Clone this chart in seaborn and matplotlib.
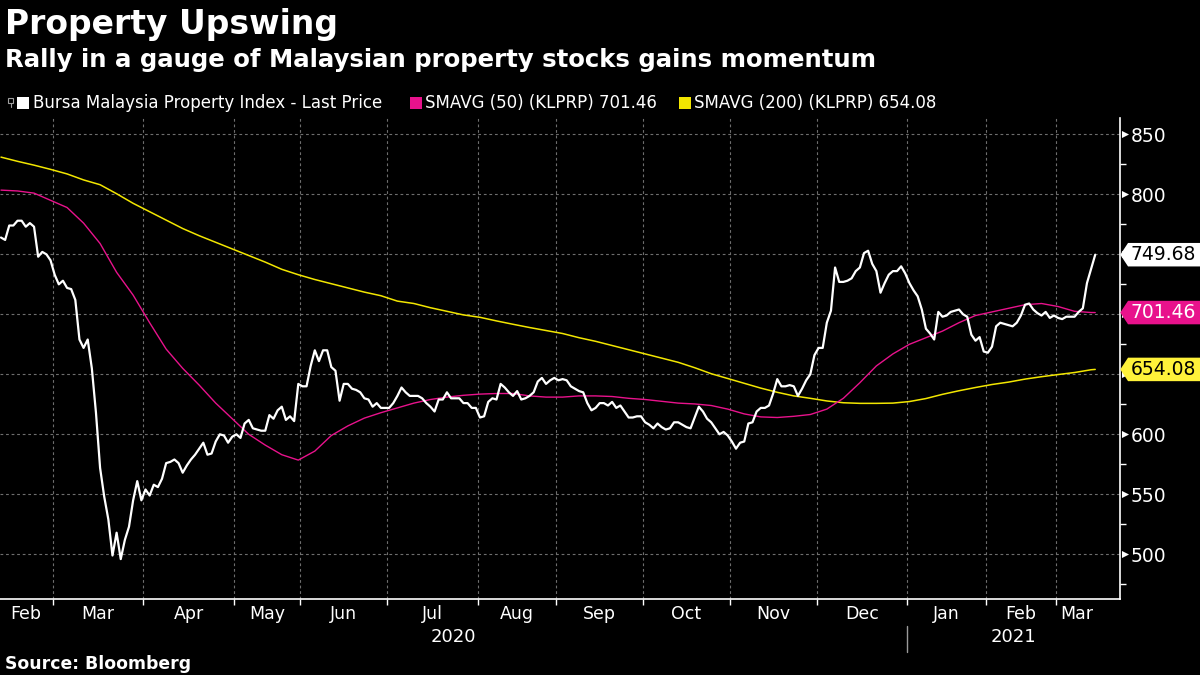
import numpy as np
import pandas as pd
import matplotlib
matplotlib.use("Agg")
import matplotlib.pyplot as plt
from matplotlib.path import Path
from matplotlib.patches import Rectangle
from matplotlib.lines import Line2D
import seaborn as sns

# ---------------- data ----------------
title = "Property Upswing"
subtitle = "Rally in a gauge of Malaysian property stocks gains momentum"
source = "Source: Bloomberg"
series_names = ["Bursa Malaysia Property Index - Last Price",
                "SMAVG (50) (KLPRP) 701.46",
                "SMAVG (200) (KLPRP) 654.08"]
last_values = [749.68, 701.46, 654.08]

month_labels = ["Feb", "Mar", "Apr", "May", "Jun", "Jul", "Aug", "Sep",
                "Oct", "Nov", "Dec", "Jan", "Feb", "Mar"]
month_years = [2020] * 11 + [2021] * 3
trading_days = [13, 22, 22, 16, 21, 22, 19, 21, 21, 21, 22, 19, 17, 10]

y_ticks = [500, 550, 600, 650, 700, 750, 800, 850]
y_minor = [475, 525, 575, 625, 675, 725, 775, 825]

last_price = [
    764, 762, 774, 774, 778, 778, 773, 776, 773, 748,
    752, 750, 745, 733, 725, 728, 722, 721, 712, 679,
    672, 679, 655, 618, 572, 548, 529, 499, 518, 496,
    512, 523, 545, 561, 545, 554, 549, 558, 556, 563,
    576, 577, 579, 576, 568, 574, 579, 583, 588, 593,
    583, 584, 594, 600, 599, 593, 598, 600, 597, 609,
    612, 605, 604, 603, 603, 616, 613, 620, 623, 612,
    615, 611, 642, 640, 640, 657, 670, 661, 670, 670,
    656, 653, 628, 642, 642, 638, 637, 635, 630, 629,
    623, 626, 622, 622, 622, 626, 632, 639, 635, 632,
    632, 632, 630, 626, 623, 619, 629, 629, 635, 630,
    630, 630, 626, 626, 622, 622, 614, 615, 627, 630,
    629, 642, 639, 635, 632, 636, 629, 630, 632, 635,
    644, 647, 642, 645, 647, 645, 646, 645, 640, 638,
    636, 635, 626, 620, 622, 626, 626, 624, 627, 622,
    624, 619, 614, 614, 615, 615, 610, 608, 605, 609,
    606, 604, 605, 610, 610, 608, 606, 605, 614, 623,
    619, 613, 610, 605, 600, 602, 599, 594, 588, 593,
    594, 609, 610,
    619, 622, 622, 624, 634, 646, 640, 640, 641, 640,
    632, 638, 645, 650, 666, 672, 672, 693, 703, 739,
    727, 727, 728, 730, 736, 739, 751, 753, 742, 736,
    718, 726, 733, 736, 736, 740, 734, 726, 720, 715,
    704, 688, 684, 679, 702, 698, 699, 702, 703, 704,
    700, 698, 683, 678, 681, 669, 668, 673, 690, 693,
    692, 691, 690, 693, 699, 708, 709, 704, 701, 699,
    702, 697, 699, 697, 696, 698, 698, 698, 702, 705,
    726, 738, 749.68,
]

# moving averages, read every 4th trading day (plus the last day)
sma50 = [803.5, 802.8, 801.0, 795.0, 789.0, 776.0, 759.0, 735.0, 716.0, 693.0,
         671.0, 655.0, 641.0, 626.0, 613.0, 600.0, 591.0, 583.0, 578.5, 586.0,
         599.0, 607.0, 613.5, 618.0, 622.0, 626.0, 629.0, 631.0, 632.5, 633.5,
         634.0, 634.0, 632.0, 631.0, 631.0, 632.0, 632.0, 631.5, 630.0, 629.0,
         627.5, 626.0, 625.3, 624.0, 621.0, 617.0, 614.5, 614.0, 615.0, 616.5,
         621.0, 630.0, 643.0, 657.0, 667.0, 675.0, 680.5, 686.0, 693.0, 699.0,
         702.0, 705.0, 708.0, 709.0, 706.5, 702.5, 701.5, 701.46]
sma200 = [831.0, 827.5, 824.3, 820.8, 817.0, 812.0, 808.0, 800.5, 792.5, 785.5,
          778.5, 771.5, 765.5, 760.0, 754.5, 749.0, 743.5, 737.5, 733.0, 729.0,
          725.5, 722.0, 718.5, 715.5, 711.0, 709.0, 705.5, 702.5, 699.5, 697.5,
          694.5, 691.7, 689.0, 686.5, 684.0, 680.5, 677.5, 674.0, 670.5, 667.0,
          663.5, 660.0, 655.5, 650.5, 646.5, 642.5, 638.5, 635.0, 632.0, 630.0,
          627.8, 626.3, 625.8, 625.8, 626.0, 627.3, 629.8, 633.3, 636.3, 639.0,
          641.5, 643.5, 646.0, 648.0, 649.8, 651.5, 653.8, 654.08]

# ---------------- styling ----------------
WHITE = "#FFFFFF"
MAGENTA = "#E8128C"
YELLOW = "#F2E600"
YELLOW_TAG = "#FFF23A"
GRID = "#6E6E6E"

sns.set_theme(style="dark")
plt.rcParams["font.family"] = ["DejaVu Sans"]
plt.rcParams["axes.facecolor"] = "black"
plt.rcParams["figure.facecolor"] = "black"

N = len(last_price)
df = pd.DataFrame({"day": np.arange(N), "price": last_price})
ma_index = sorted(set(range(0, N, 4)) | {N - 1})
df_ma = pd.DataFrame({"day": ma_index, "sma50": sma50, "sma200": sma200})

W, H = 1200, 675
fig = plt.figure(figsize=(W / 100, H / 100), dpi=100, facecolor="black")
ax = fig.add_axes([0, 1 - 599 / H, 1120 / W, (599 - 118) / H])
ax.set_facecolor("black")

sns.lineplot(data=df_ma, x="day", y="sma200", ax=ax, color=YELLOW, linewidth=1.1)
sns.lineplot(data=df_ma, x="day", y="sma50", ax=ax, color=MAGENTA, linewidth=1.0)
sns.lineplot(data=df, x="day", y="price", ax=ax, color=WHITE, linewidth=1.6)

# axes / spines
for s in ["left", "top"]:
    ax.spines[s].set_visible(False)
for s in ["right", "bottom"]:
    ax.spines[s].set_visible(True)
    ax.spines[s].set_color(WHITE)
    ax.spines[s].set_linewidth(1.2)
ax.set_xlabel("")
ax.set_ylabel("")

# y axis on the right; labels hidden where a value tag sits on top of them
ax.yaxis.tick_right()
ax.set_yticks(y_ticks)
ax.set_yticklabels(["" if min(abs(v - t) for t in last_values) < 15 else str(v)
                    for v in y_ticks])
ax.set_yticks(y_minor, minor=True)
ax.tick_params(axis="y", which="major", length=0, pad=7.5, labelsize=13.5,
               labelcolor=WHITE, right=True, left=False)
ax.tick_params(axis="y", which="minor", length=4, width=1, color=WHITE,
               direction="out", right=True, left=False)
ax.scatter([1.0045] * len(y_ticks), y_ticks, transform=ax.get_yaxis_transform(),
           marker=">", s=26, color=WHITE, linewidths=0, clip_on=False, zorder=2.6)

# x axis: month boundaries (ticks + grid), month labels between them
cum = np.cumsum(trading_days)
bounds = cum[:-1] - 0.5
starts = np.concatenate([[-0.5], bounds])
ends = np.concatenate([bounds, [N - 0.5]])
centers = (starts + ends) / 2
ax.set_xticks(bounds)
ax.set_xticklabels([""] * len(bounds))
ax.set_xticks(centers, minor=True)
ax.set_xticklabels(month_labels, minor=True)
ax.tick_params(axis="x", which="major", length=4, width=1, color=WHITE,
               direction="out", bottom=True)
ax.tick_params(axis="x", which="minor", length=0, pad=4, labelsize=12.5,
               labelcolor=WHITE, bottom=True)

xmin, xmax = -0.24, 271.0
ax.set_xlim(xmin, xmax)
ax.set_ylim(462.75, 863.6)

ax.grid(which="major", axis="both", color=GRID, linestyle=(0, (2.5, 2.5)),
        linewidth=0.8)
ax.grid(which="minor", visible=False)
ax.set_axisbelow(True)

# year labels and separator
years = sorted(set(month_years))
year_first = [month_years.index(y) for y in years]
year_split = bounds[year_first[1] - 1]
xt = ax.get_xaxis_transform()
ax.text((xmin + year_split) / 2, -0.078, str(years[0]), transform=xt,
        ha="center", va="center", color=WHITE, fontsize=13)
ax.text((year_split + xmax) / 2, -0.078, str(years[1]), transform=xt,
        ha="center", va="center", color=WHITE, fontsize=13)
ax.plot([year_split, year_split], [-0.056, -0.11], transform=xt, color="#9A9A9A",
        linewidth=1, clip_on=False)


# value tags on the right axis
def tag_box(x0, y0, width, height, mutation_size):
    pad = 0.12 * mutation_size
    x0, y0 = x0 - pad, y0 - pad
    x1, y1 = x0 + width + 2 * pad + 12, y0 + height + 2 * pad
    tip = 0.33 * (y1 - y0)
    ym = (y0 + y1) / 2
    verts = [(x0, y0), (x1, y0), (x1, y1), (x0, y1), (x0 - tip, ym), (x0, y0)]
    codes = [Path.MOVETO] + [Path.LINETO] * 4 + [Path.CLOSEPOLY]
    return Path(verts, codes)


tag_styles = [(WHITE, "black"), (MAGENTA, WHITE), (YELLOW_TAG, "black")]
for val, (bg, fg) in zip(last_values, tag_styles):
    ax.annotate(f"{val:.2f}", xy=(1, val), xycoords=("axes fraction", "data"),
                xytext=(7.4, 0), textcoords="offset points", ha="left", va="center",
                fontsize=13.5, color=fg, annotation_clip=False, zorder=4,
                bbox=dict(boxstyle=tag_box, facecolor=bg, edgecolor="none"))

# titles
fig.text(5 / W, 1 - 34 / H, title, fontsize=23.8, fontweight="bold", color=WHITE,
         ha="left", va="baseline")
fig.text(5 / W, 1 - 67 / H, subtitle, fontsize=17.6, fontweight="bold", color=WHITE,
         ha="left", va="baseline")
fig.text(5 / W, 1 - 669 / H, source, fontsize=12.4, fontweight="bold", color=WHITE,
         ha="left", va="baseline")

# legend row
tf = fig.transFigure
fig.add_artist(Rectangle((8 / W, 1 - 103 / H), 5 / W, 5 / H, transform=tf,
                         facecolor="none", edgecolor="#A0A0A0", linewidth=0.8))
fig.add_artist(Line2D([10.5 / W, 10.5 / W], [1 - 103 / H, 1 - 107 / H], transform=tf,
                      color="#A0A0A0", linewidth=0.8))
legend_items = [(17, 33, WHITE), (409.5, 425, MAGENTA), (679, 694, YELLOW)]
for (sq_x, tx, col), name in zip(legend_items, series_names):
    fig.add_artist(Rectangle((sq_x / W, 1 - 108.5 / H), 12 / W, 12 / H, transform=tf,
                             facecolor=col, edgecolor="none"))
    fig.text(tx / W, 1 - 108 / H, name, fontsize=12, color=WHITE, ha="left",
             va="baseline")

fig.savefig("out.png", dpi=100, facecolor="black")
